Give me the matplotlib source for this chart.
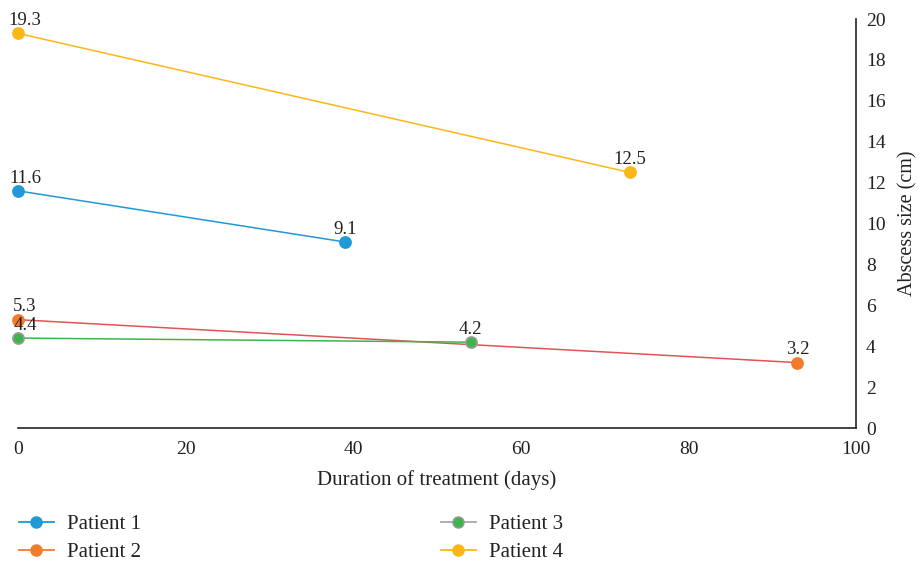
import matplotlib.pyplot as plt
from matplotlib.lines import Line2D

plt.rcParams['font.family'] = ['Liberation Serif', 'DejaVu Serif']

# Данные: длительность лечения (дни) и размер абсцесса (см)
patients = ["Patient 1", "Patient 2", "Patient 3", "Patient 4"]
days = [[0, 39], [0, 93], [0, 54], [0, 73]]
sizes = [[11.6, 9.1], [5.3, 3.2], [4.4, 4.2], [19.3, 12.5]]

line_colors = ["#1f9ad6", "#e05454", "#3db54a", "#fbb715"]
marker_colors = ["#1f9ad6", "#f47b2a", "#3db54a", "#fbb715"]
edge_colors = ["#1f9ad6", "#f47b2a", "#9a9a9a", "#fbb715"]
legend_line_colors = ["#1f9ad6", "#f47b2a", "#a8a8a8", "#fbb715"]

fig = plt.figure(figsize=(9.19, 5.61), dpi=100)
ax = fig.add_axes([0.0196, 0.237, 0.912, 0.729])

for i in range(len(patients)):
    ax.plot(days[i], sizes[i], '-', color=line_colors[i], lw=1.1, zorder=2, clip_on=False)
    ax.plot(days[i], sizes[i], 'o', ms=8, mfc=marker_colors[i],
            mec=edge_colors[i], mew=1.2, zorder=3, clip_on=False)
    for x, y in zip(days[i], sizes[i]):
        dx = 5 if x == 0 else 0
        ax.annotate("%.1f" % y, (x, y), xytext=(dx, 3), textcoords="offset points",
                    ha="center", va="bottom", fontsize=13.5, color="#222222")

ax.set_xlim(0, 100)
ax.set_ylim(0, 20)
ax.set_xticks(range(0, 101, 20))
ax.set_yticks(range(0, 21, 2))
ax.yaxis.tick_right()
ax.yaxis.set_label_position("right")
ax.tick_params(length=0, labelsize=14, colors="#222222")
ax.tick_params(axis='x', pad=9)
ax.tick_params(axis='y', pad=7)
for s in ["top", "left"]:
    ax.spines[s].set_visible(False)
for s in ["bottom", "right"]:
    ax.spines[s].set_color("#222222")
    ax.spines[s].set_linewidth(1.2)

ax.set_xlabel("Duration of treatment (days)", fontsize=15, color="#222222", labelpad=9)
ax.set_ylabel("Abscess size (cm)", fontsize=14.5, color="#222222", labelpad=9)

handles = []
for i in range(len(patients)):
    handles.append(Line2D([0], [0], color=legend_line_colors[i], lw=1.3, marker='o', ms=8,
                          mfc=marker_colors[i], mec=edge_colors[i], label=patients[i]))
fig.legend(handles=handles, loc="lower left", bbox_to_anchor=(0.0, -0.035), ncol=2,
           frameon=False, fontsize=15, handlelength=1.7, columnspacing=14.4,
           labelspacing=0.4, handletextpad=0.6, labelcolor="#222222")

fig.savefig("out.png", dpi=100)
